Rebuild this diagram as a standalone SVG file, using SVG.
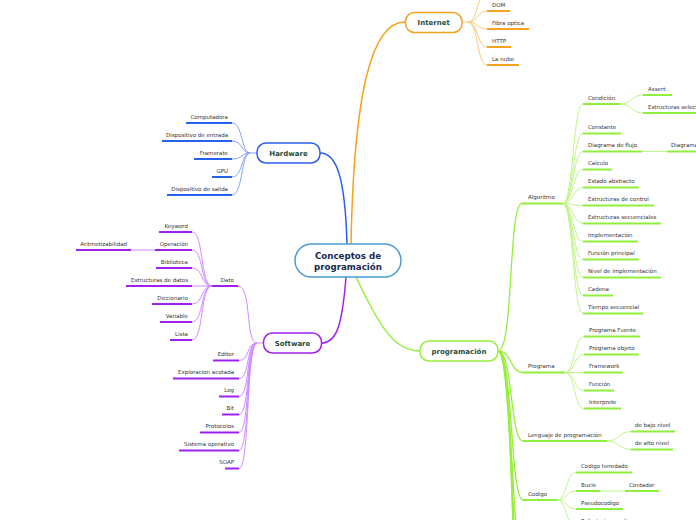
<svg xmlns="http://www.w3.org/2000/svg" width="696" height="520" viewBox="0 0 696 520">
<style>
.t{font-family:"DejaVu Sans",Verdana,sans-serif;font-size:5.5px;fill:#333}
.e{text-anchor:end}
.nt{font-family:"DejaVu Sans",Verdana,sans-serif;font-weight:bold;font-size:7px;fill:#1f4d3c;text-anchor:middle}
.ct{font-family:"DejaVu Sans",Verdana,sans-serif;font-weight:bold;font-size:8.7px;fill:#1b2a4e;text-anchor:middle}
path,line{fill:none}
.uo{stroke:#f8a21f;stroke-width:2}
.ub{stroke:#2860f0;stroke-width:2}
.up{stroke:#a020f0;stroke-width:2}
.ug{stroke:#8ef03c;stroke-width:2}
.lo{stroke:#fbc97a;stroke-width:1}
.lb{stroke:#86a3f5;stroke-width:1}
.lp{stroke:#cf8cff;stroke-width:1}
.lg{stroke:#bff58a;stroke-width:1}
.mg{stroke:#96ee3c;stroke-width:1.3}
.node{fill:#fff;stroke-width:1.5}
</style>
<g id="connectors">
<path d="M351,244 C354,90 372,22 405,22" stroke="#f7a21b" stroke-width="1.5"/>
<path d="M347,244 C345,175 336,153 320,153" stroke="#2a5ef0" stroke-width="1.5"/>
<path d="M346,277 C342,328 336,343 321,343" stroke="#a020f0" stroke-width="1.5"/>
<path d="M356,277 C382,332 396,351 420,351" stroke="#96ee3c" stroke-width="1.5"/>
<path class="lo" d="M462,22 L468,22"/>
<path class="lo" d="M468,22 C478,22 477,-8 487,-8"/>
<path class="lo" d="M468,22 C478,22 477,11 487,11"/>
<path class="lo" d="M468,22 C478,22 477,29 487,29"/>
<path class="lo" d="M468,22 C478,22 477,47 487,47"/>
<path class="lo" d="M468,22 C478,22 477,65 487,65"/>
<path class="lb" d="M257,153 L250,153"/>
<path class="lb" d="M250,153 C241,153 243,123 232,123"/>
<path class="lb" d="M250,153 C241,153 243,141 232,141"/>
<path class="lb" d="M250,153 C241,153 243,159 232,159"/>
<path class="lb" d="M250,153 C241,153 243,177 232,177"/>
<path class="lb" d="M250,153 C241,153 243,195 232,195"/>
<path class="lp" d="M263,343 L257,343"/>
<path class="lp" d="M257,343 C245,343 252,286 238,286"/>
<path class="lp" d="M257,343 C246,343 250,360.5 239,360.5"/>
<path class="lp" d="M257,343 C246,343 250,378.5 239,378.5"/>
<path class="lp" d="M257,343 C246,343 250,396.5 239,396.5"/>
<path class="lp" d="M257,343 C246,343 250,414.5 239,414.5"/>
<path class="lp" d="M257,343 C246,343 250,432.5 239,432.5"/>
<path class="lp" d="M257,343 C246,343 250,450.5 239,450.5"/>
<path class="lp" d="M257,343 C246,343 250,468.5 239,468.5"/>
<path class="lp" d="M212,286 C200,286 204,232 192,232"/>
<path class="lp" d="M212,286 C200,286 204,250 192,250"/>
<path class="lp" d="M212,286 C200,286 204,268 192,268"/>
<path class="lp" d="M212,286 L192,286"/>
<path class="lp" d="M212,286 C200,286 204,304 192,304"/>
<path class="lp" d="M212,286 C200,286 204,322 192,322"/>
<path class="lp" d="M212,286 C200,286 204,340 192,340"/>
<path class="lp" d="M155,250 L131,250"/>
<path class="mg" d="M498,351 C514,351 508,203.5 522,203.5"/>
<path class="mg" d="M498,351 C512,351 510,372.5 523,372.5"/>
<path class="mg" d="M498,351 C513,351 510,441 523,441"/>
<path class="mg" d="M498,351 C513,351 510,500 523,500"/>
<path class="mg" d="M498,351 C513,351 511,560 523,560"/>
<path class="mg" d="M498,351 C514,351 512,620 523,620"/>
<path class="mg" d="M498,351 C515,351 513,690 523,690"/>
<path class="mg" d="M498,351 C516,351 514,760 523,760"/>
<path class="lg" d="M563,203.5 C573,203.5 573,104 583,104"/>
<path class="lg" d="M563,203.5 C573,203.5 573,133.5 583,133.5"/>
<path class="lg" d="M563,203.5 C573,203.5 573,151.5 583,151.5"/>
<path class="lg" d="M563,203.5 C573,203.5 573,169.5 583,169.5"/>
<path class="lg" d="M563,203.5 C573,203.5 573,187.5 583,187.5"/>
<path class="lg" d="M563,203.5 C573,203.5 573,205.5 583,205.5"/>
<path class="lg" d="M563,203.5 C573,203.5 573,223.5 583,223.5"/>
<path class="lg" d="M563,203.5 C573,203.5 573,241.5 583,241.5"/>
<path class="lg" d="M563,203.5 C573,203.5 573,259.5 583,259.5"/>
<path class="lg" d="M563,203.5 C573,203.5 573,277.5 583,277.5"/>
<path class="lg" d="M563,203.5 C573,203.5 573,295.5 583,295.5"/>
<path class="lg" d="M563,203.5 C573,203.5 573,313.5 583,313.5"/>
<path class="lg" d="M620,104 C632,104 631,95 643,95"/>
<path class="lg" d="M620,104 C632,104 631,113 643,113"/>
<path class="lg" d="M642,151.5 L667,151.5"/>
<path class="lg" d="M565,372.5 C575,372.5 574,336.5 584,336.5"/>
<path class="lg" d="M565,372.5 C575,372.5 574,354.5 584,354.5"/>
<path class="lg" d="M565,372.5 L584,372.5"/>
<path class="lg" d="M565,372.5 C575,372.5 574,390.5 584,390.5"/>
<path class="lg" d="M565,372.5 C575,372.5 574,408.5 584,408.5"/>
<path class="lg" d="M607,441 C619,441 619,431.5 631,431.5"/>
<path class="lg" d="M607,441 C619,441 619,449.5 631,449.5"/>
<path class="lg" d="M557,500 C567,500 566,472.5 576,472.5"/>
<path class="lg" d="M557,500 C567,500 566,491 576,491"/>
<path class="lg" d="M557,500 C567,500 566,509 576,509"/>
<path class="lg" d="M557,500 C567,500 566,527 576,527"/>
<path class="lg" d="M600,491 L625,491"/>
</g>
<g id="central">
<rect class="node" x="295" y="244" width="106" height="33" rx="16.5" stroke="#4b9cd3"/>
<text class="ct" x="348" y="259">Conceptos de</text>
<text class="ct" x="348" y="270">programación</text>
</g>
<g id="internet">
<rect class="node" x="405.5" y="12.5" width="56.5" height="20" rx="9" stroke="#f7a21b"/>
<text class="nt" x="433.7" y="25">Internet</text>
</g>
<g id="internet-children">
<g id="dom"><line class="uo" x1="487" y1="11" x2="510" y2="11"/><text class="t" x="492" y="6.5">DOM</text></g>
<g id="fibra"><line class="uo" x1="487" y1="29" x2="529" y2="29"/><text class="t" x="492" y="24.5">Fibra optica</text></g>
<g id="http"><line class="uo" x1="487" y1="47" x2="511" y2="47"/><text class="t" x="492" y="42.5">HTTP</text></g>
<g id="nube"><line class="uo" x1="487" y1="65" x2="519" y2="65"/><text class="t" x="492" y="60.5">La nube</text></g>
</g>
<g id="hardware">
<rect class="node" x="257" y="143" width="63" height="20" rx="9" stroke="#2a5ef0"/>
<text class="nt" x="288.5" y="155.5">Hardware</text>
</g>
<g id="hardware-children">
<g id="computadora"><line class="ub" x1="186" y1="123" x2="232" y2="123"/><text class="t e" x="228" y="118.5">Computadora</text></g>
<g id="disp-entrada"><line class="ub" x1="162" y1="141" x2="232" y2="141"/><text class="t e" x="228" y="136.5">Dispositivo de entrada</text></g>
<g id="framerate"><line class="ub" x1="194" y1="159" x2="232" y2="159"/><text class="t e" x="228" y="154.5">Framerate</text></g>
<g id="gpu"><line class="ub" x1="212" y1="177" x2="232" y2="177"/><text class="t e" x="228" y="172.5">GPU</text></g>
<g id="disp-salida"><line class="ub" x1="167" y1="195" x2="232" y2="195"/><text class="t e" x="228" y="190.5">Dispositivo de salida</text></g>
</g>
<g id="software">
<rect class="node" x="263.5" y="333" width="58" height="20" rx="9" stroke="#a020f0"/>
<text class="nt" x="292.5" y="345.5">Software</text>
</g>
<g id="software-children">
<g id="dato"><line class="up" x1="212" y1="286" x2="238" y2="286"/><text class="t e" x="234" y="281.5">Dato</text></g>
<g id="keyword"><line class="up" x1="159" y1="232" x2="192" y2="232"/><text class="t e" x="188" y="227.5">Keyword</text></g>
<g id="operacion"><line class="up" x1="155" y1="250" x2="192" y2="250"/><text class="t e" x="188" y="245.5">Operación</text></g>
<g id="aritmetizabilidad"><line class="up" x1="76" y1="250" x2="131" y2="250"/><text class="t e" x="127" y="245.5">Aritmetizabilidad</text></g>
<g id="biblioteca"><line class="up" x1="156" y1="268" x2="192" y2="268"/><text class="t e" x="188" y="263.5">Biblioteca</text></g>
<g id="estructuras-datos"><line class="up" x1="126" y1="286" x2="192" y2="286"/><text class="t e" x="188" y="281.5">Estructuras de datos</text></g>
<g id="diccionario"><line class="up" x1="152" y1="304" x2="192" y2="304"/><text class="t e" x="188" y="299.5">Diccionario</text></g>
<g id="variable"><line class="up" x1="160" y1="322" x2="192" y2="322"/><text class="t e" x="188" y="317.5">Variable</text></g>
<g id="lista"><line class="up" x1="170" y1="340" x2="192" y2="340"/><text class="t e" x="188" y="335.5">Lista</text></g>
<g id="editor"><line class="up" x1="213" y1="360.5" x2="239" y2="360.5"/><text class="t e" x="234" y="356">Editor</text></g>
<g id="exploracion"><line class="up" x1="173" y1="378.5" x2="239" y2="378.5"/><text class="t e" x="234" y="374">Exploracion acotada</text></g>
<g id="log"><line class="up" x1="219" y1="396.5" x2="239" y2="396.5"/><text class="t e" x="234" y="392">Log</text></g>
<g id="bit"><line class="up" x1="222" y1="414.5" x2="239" y2="414.5"/><text class="t e" x="234" y="410">Bit</text></g>
<g id="protocolos"><line class="up" x1="200" y1="432.5" x2="239" y2="432.5"/><text class="t e" x="234" y="428">Protocolos</text></g>
<g id="sistema"><line class="up" x1="179" y1="450.5" x2="239" y2="450.5"/><text class="t e" x="234" y="446">Sistema operativo</text></g>
<g id="soap"><line class="up" x1="225" y1="468.5" x2="239" y2="468.5"/><text class="t e" x="234" y="464">SOAP</text></g>
</g>
<g id="programacion">
<rect class="node" x="420" y="341" width="78" height="20" rx="9" stroke="#96ee3c"/>
<text class="nt" x="459" y="353.5">programación</text>
</g>
<g id="programacion-children">
<g id="algoritmo"><line class="ug" x1="522" y1="203.5" x2="563" y2="203.5"/><text class="t" x="528" y="199">Algoritmo</text></g>
<g id="condicion"><line class="ug" x1="583" y1="104" x2="620" y2="104"/><text class="t" x="588" y="99.5">Condición</text></g>
<g id="assert"><line class="ug" x1="643" y1="95" x2="672" y2="95"/><text class="t" x="648" y="90.5">Assert</text></g>
<g id="estr-selectivas"><line class="ug" x1="643" y1="113" x2="700" y2="113"/><text class="t" x="648" y="108.5">Estructuras selectivas</text></g>
<g id="constante"><line class="ug" x1="583" y1="133.5" x2="621" y2="133.5"/><text class="t" x="588" y="129">Constante</text></g>
<g id="diagrama-flujo"><line class="ug" x1="583" y1="151.5" x2="642" y2="151.5"/><text class="t" x="588" y="147">Diagrama de flujo</text></g>
<g id="diagrama"><line class="ug" x1="667" y1="151.5" x2="700" y2="151.5"/><text class="t" x="671" y="147">Diagrama</text></g>
<g id="calculo"><line class="ug" x1="583" y1="169.5" x2="612" y2="169.5"/><text class="t" x="588" y="165">Calculo</text></g>
<g id="estado"><line class="ug" x1="583" y1="187.5" x2="639" y2="187.5"/><text class="t" x="588" y="183">Estado abstracto</text></g>
<g id="estr-control"><line class="ug" x1="583" y1="205.5" x2="654" y2="205.5"/><text class="t" x="588" y="201">Estructuras de control</text></g>
<g id="estr-sec"><line class="ug" x1="583" y1="223.5" x2="661" y2="223.5"/><text class="t" x="588" y="219">Estructuras secuenciales</text></g>
<g id="implementacion"><line class="ug" x1="583" y1="241.5" x2="638" y2="241.5"/><text class="t" x="588" y="237">Implementación</text></g>
<g id="funcion-principal"><line class="ug" x1="583" y1="259.5" x2="639" y2="259.5"/><text class="t" x="588" y="255">Función principal</text></g>
<g id="nivel"><line class="ug" x1="583" y1="277.5" x2="661" y2="277.5"/><text class="t" x="588" y="273">Nivel de implementación</text></g>
<g id="cadena"><line class="ug" x1="583" y1="295.5" x2="613" y2="295.5"/><text class="t" x="588" y="291">Cadena</text></g>
<g id="tiempo"><line class="ug" x1="583" y1="313.5" x2="643" y2="313.5"/><text class="t" x="588" y="309">Tiempo secuencial</text></g>
<g id="programa"><line class="ug" x1="523" y1="372.5" x2="565" y2="372.5"/><text class="t" x="528" y="368">Programa</text></g>
<g id="prog-fuente"><line class="ug" x1="584" y1="336.5" x2="640" y2="336.5"/><text class="t" x="589" y="332">Programa Fuente</text></g>
<g id="prog-objeto"><line class="ug" x1="584" y1="354.5" x2="639" y2="354.5"/><text class="t" x="589" y="350">Programa objeto</text></g>
<g id="framework"><line class="ug" x1="584" y1="372.5" x2="623" y2="372.5"/><text class="t" x="589" y="368">Framework</text></g>
<g id="funcion"><line class="ug" x1="584" y1="390.5" x2="614" y2="390.5"/><text class="t" x="589" y="386">Función</text></g>
<g id="interprete"><line class="ug" x1="584" y1="408.5" x2="621" y2="408.5"/><text class="t" x="589" y="404">Interprete</text></g>
<g id="lenguaje"><line class="ug" x1="523" y1="441" x2="607" y2="441"/><text class="t" x="528" y="436.5">Lenguaje de programación</text></g>
<g id="bajo"><line class="ug" x1="631" y1="431.5" x2="675" y2="431.5"/><text class="t" x="635" y="427">de bajo nivel</text></g>
<g id="alto"><line class="ug" x1="631" y1="449.5" x2="673" y2="449.5"/><text class="t" x="635" y="445">de alto nivel</text></g>
<g id="codigo"><line class="ug" x1="523" y1="500" x2="557" y2="500"/><text class="t" x="528" y="495.5">Codigo</text></g>
<g id="heredado"><line class="ug" x1="576" y1="472.5" x2="632" y2="472.5"/><text class="t" x="581" y="468">Codigo heredado</text></g>
<g id="bucle"><line class="ug" x1="576" y1="491" x2="600" y2="491"/><text class="t" x="581" y="486.5">Bucle</text></g>
<g id="contador"><line class="ug" x1="625" y1="491" x2="659" y2="491"/><text class="t" x="629" y="486.5">Contador</text></g>
<g id="pseudocodigo"><line class="ug" x1="576" y1="509" x2="623" y2="509"/><text class="t" x="581" y="504.5">Pseudocodigo</text></g>
<g id="refactorizar"><line class="ug" x1="576" y1="527" x2="635" y2="527"/><text class="t" x="581" y="522.5">Refactorizar codigo</text></g>
</g>
</svg>
